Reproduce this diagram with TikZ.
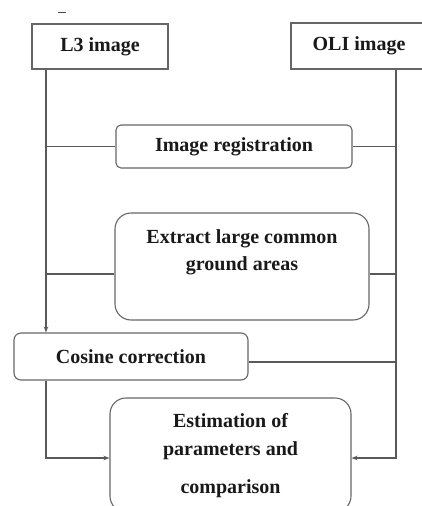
\documentclass[tikz,border=0pt]{standalone}
\usepackage{fontspec}
\setmainfont{Liberation Serif}
\usetikzlibrary{arrows.meta,calc}
\begin{document}
\begin{tikzpicture}[x=1pt,y=-1pt,
  every node/.style={font=\fontsize{20}{24}\selectfont\bfseries, text=black!90},
  sqbox/.style={draw=black!60, line width=1.1pt, rectangle, inner sep=0pt},
  rbox/.style={draw=black!60, line width=1.1pt, rectangle, rounded corners=#1, inner sep=0pt},
  conn/.style={draw=black!65, line width=1.1pt},
  arr/.style={conn, -{Stealth[length=6pt,width=4.5pt]}},
  txt/.style={inner sep=0pt, align=center}]
\useasboundingbox (0,0) rectangle (421,506);
\draw[black!70, line width=1pt] (58,12) -- (66,12);
% boxes
\node[sqbox, minimum width=136pt, minimum height=45pt] (l3) at (100,46.5) {L3 image};
\node[sqbox, minimum width=136pt, minimum height=46pt] (oli) at (359,46) {OLI image};
\node[rbox=5pt, minimum width=236pt, minimum height=43pt] (reg) at (234,146.5) {Image registration};
\node[rbox=16pt, minimum width=254pt, minimum height=107pt] (ext) at (242,266.5) {};
\node[txt] (extt) at (242,252) {Extract large common\\[3pt]ground areas};
\node[rbox=7pt, minimum width=234pt, minimum height=47pt] (cos) at (131,356.5) {Cosine correction};
\node[rbox=16pt, minimum width=241pt, minimum height=114pt] (est) at (230.5,455) {};
\node[txt] (estt) at (230.5,456) {Estimation of\\[4pt]parameters and\\[14pt]comparison};
% helper coordinates
\coordinate (lx) at (46,0);
\coordinate (rx) at (396,0);
\coordinate (ey) at (0,274);
\coordinate (cy) at (0,362);
\coordinate (sy) at (0,458);
% left trunk
\draw[arr] (lx |- l3.south) -- (lx |- cos.north);
\draw[conn] (reg.west) -- (lx |- reg.west);
\draw[conn] (ext.west |- ey) -- (lx |- ey);
\draw[arr] (lx |- cos.south) -- (lx |- sy) -- (est.west |- sy);
% right trunk
\draw[arr] (rx |- oli.south) -- (rx |- sy) -- (est.east |- sy);
\draw[conn] (reg.east) -- (rx |- reg.east);
\draw[conn] (ext.east |- ey) -- (rx |- ey);
\draw[conn] (cos.east |- cy) -- (rx |- cy);
\end{tikzpicture}
\end{document}
